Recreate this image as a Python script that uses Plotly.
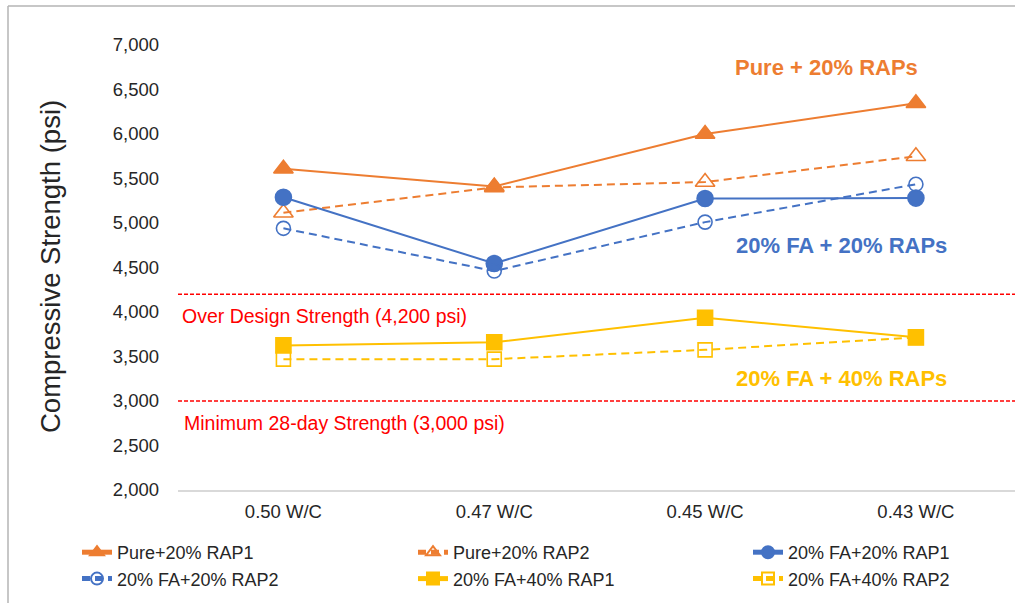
import plotly.graph_objects as go

# Water/cement ratios along the x axis
categories = ["0.50 W/C", "0.47 W/C", "0.45 W/C", "0.43 W/C"]

# Compressive strength (psi) for each mix and replicate
pure20_rap1 = [5610, 5410, 6000, 6345]
pure20_rap2 = [5115, 5400, 5460, 5750]
fa20_rap20_1 = [5290, 4545, 5275, 5280]
fa20_rap20_2 = [4940, 4460, 5010, 5435]
fa20_rap40_1 = [3625, 3660, 3935, 3715]
fa20_rap40_2 = [3470, 3470, 3575, 3715]

# Reference strengths (psi)
over_design = 4200
minimum_28day = 3000

y_ticks = [2000, 2500, 3000, 3500, 4000, 4500, 5000, 5500, 6000, 6500, 7000]

ORANGE = "#ED7D31"
BLUE = "#4472C4"
GOLD = "#FFC000"
RED = "#FF0000"
TEXT = "#262626"
FONT = "Liberation Sans, Arial, sans-serif"

W, H = 1015, 603
L, R, T, B = 178, 0, 45, 113
PW, PH = W - L - R, H - T - B


def px_x(p):
    return (p - L) / PW


def px_y(p):
    return (H - B - p) / PH


series = [
    ("Pure+20% RAP1", pure20_rap1, ORANGE, "solid", "triangle-up", 17, "legend"),
    ("Pure+20% RAP2", pure20_rap2, ORANGE, "dash", "triangle-up-open", 17, "legend2"),
    ("20% FA+20% RAP1", fa20_rap20_1, BLUE, "solid", "circle", 16, "legend3"),
    ("20% FA+20% RAP2", fa20_rap20_2, BLUE, "dash", "circle-open", 14, "legend"),
    ("20% FA+40% RAP1", fa20_rap40_1, GOLD, "solid", "square", 15, "legend2"),
    ("20% FA+40% RAP2", fa20_rap40_2, GOLD, "dash", "square-open", 14, "legend3"),
]

fig = go.Figure()
for name, vals, color, dash, symbol, size, leg in series:
    fig.add_trace(go.Scatter(
        x=categories, y=vals, name=name, mode="lines+markers",
        line=dict(color=color, width=2, dash=("8px,5px" if dash == "dash" else "solid")),
        marker=dict(symbol=symbol, size=size, color=color,
                    line=dict(color=color, width=1.6)),
        legend=leg,
    ))

shapes = [
    dict(type="line", xref="paper", yref="y", x0=0, x1=1, y0=over_design, y1=over_design,
         line=dict(color=RED, width=1.6, dash="4px,2px")),
    dict(type="line", xref="paper", yref="y", x0=0, x1=1, y0=minimum_28day, y1=minimum_28day,
         line=dict(color=RED, width=1.6, dash="4px,2px")),
    # chart frame
    dict(type="line", xref="paper", yref="paper", x0=px_x(8), x1=1.02, y0=px_y(6), y1=px_y(6),
         line=dict(color="#b4b4b4", width=1.5)),
    dict(type="line", xref="paper", yref="paper", x0=px_x(8), x1=px_x(8), y0=px_y(6), y1=-0.3,
         line=dict(color="#b4b4b4", width=1.5)),
]

annotations = [
    dict(text="Compressive Strength (psi)", xref="paper", yref="paper",
         x=px_x(50), y=px_y(267), xanchor="center", yanchor="middle",
         textangle=-90, showarrow=False,
         font=dict(family=FONT, size=27.5, color=TEXT)),
    dict(text="Over Design Strength (4,200 psi)", xref="paper", yref="y",
         x=px_x(180), y=over_design, xanchor="left", yanchor="top", yshift=-9,
         showarrow=False, font=dict(family=FONT, size=19.5, color=RED)),
    dict(text="Minimum 28-day Strength (3,000 psi)", xref="paper", yref="y",
         x=px_x(182), y=minimum_28day, xanchor="left", yanchor="top", yshift=-9,
         showarrow=False, font=dict(family=FONT, size=19.5, color=RED)),
    dict(text="<b>Pure + 20% RAPs</b>", xref="paper", yref="paper",
         x=px_x(826), y=px_y(68), xanchor="center", yanchor="middle", showarrow=False,
         font=dict(family=FONT, size=22, color=ORANGE)),
    dict(text="<b>20% FA + 20% RAPs</b>", xref="paper", yref="paper",
         x=px_x(841), y=px_y(245), xanchor="center", yanchor="middle", showarrow=False,
         font=dict(family=FONT, size=22, color=BLUE)),
    dict(text="<b>20% FA + 40% RAPs</b>", xref="paper", yref="paper",
         x=px_x(841), y=px_y(378), xanchor="center", yanchor="middle", showarrow=False,
         font=dict(family=FONT, size=22, color=GOLD)),
]

legend_common = dict(
    orientation="v", xanchor="left", yanchor="top", y=px_y(534),
    bgcolor="rgba(0,0,0,0)", itemsizing="constant", tracegroupgap=0,
    font=dict(family=FONT, size=18, color=TEXT),
)

fig.update_layout(
    width=W, height=H,
    margin=dict(l=L, r=R, t=T, b=B, autoexpand=False),
    paper_bgcolor="white", plot_bgcolor="white",
    font=dict(family=FONT, size=18, color=TEXT),
    showlegend=True,
    legend=dict(x=px_x(77), **legend_common),
    legend2=dict(x=px_x(413), **legend_common),
    legend3=dict(x=px_x(748), **legend_common),
    shapes=shapes,
    annotations=annotations,
    xaxis=dict(
        type="category", range=[-0.5, 3.47], showgrid=False, zeroline=False,
        showline=True, linecolor="#d9d9d9", linewidth=1.5, ticks="",
        ticklabelstandoff=4, tickfont=dict(family=FONT, size=18.5, color=TEXT),
        automargin=False,
    ),
    yaxis=dict(
        range=[2000, 7000], tickvals=y_ticks, tickformat=",", showgrid=False,
        zeroline=False, showline=False, ticks="", ticklabelstandoff=18,
        tickfont=dict(family=FONT, size=18.5, color=TEXT), automargin=False,
    ),
)

fig.write_html("out.html")
